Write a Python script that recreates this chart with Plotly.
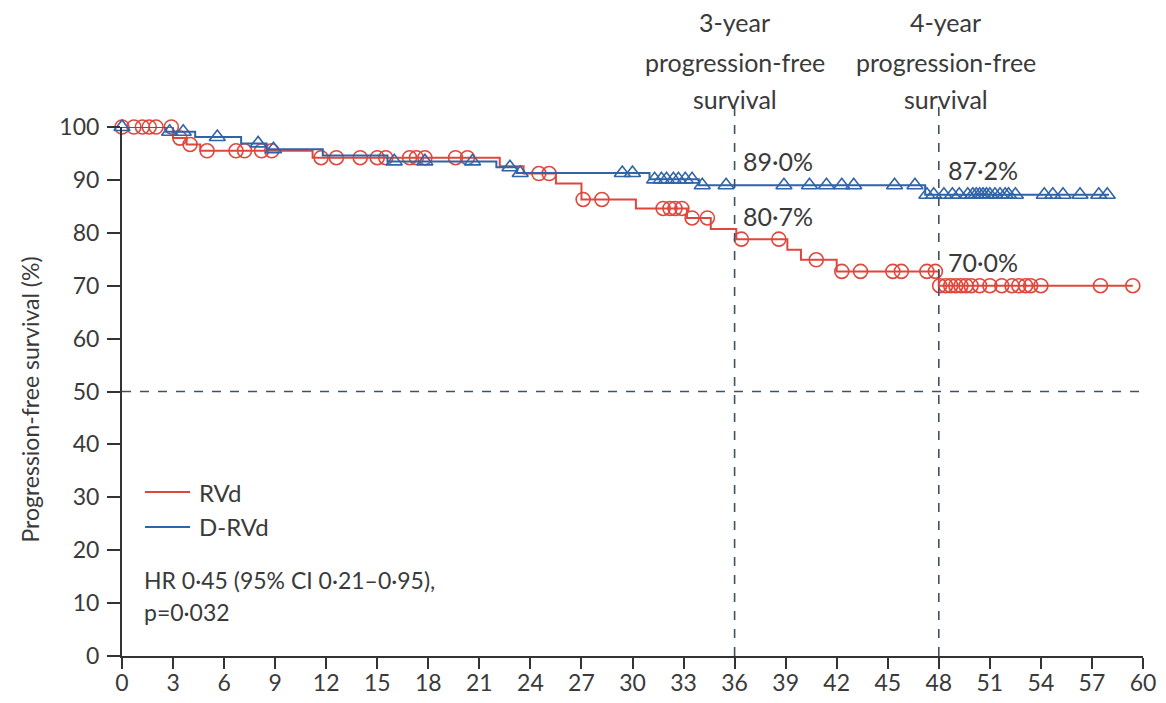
import plotly.graph_objects as go
import numpy as np

# ---------------- data ----------------
# RVd (red): event times (months) and survival (%) after each step
rvd_event_t = [0, 3.0, 3.8, 4.6, 11.2, 22.2, 23.6, 25.5, 27.0, 30.2, 33.2, 34.6, 36.1, 39.1, 39.9, 42.0, 48.0]
rvd_event_s = [100, 97.9, 96.7, 95.5, 94.2, 92.6, 91.2, 89.3, 86.3, 84.6, 82.8, 80.7, 78.8, 76.8, 74.9, 72.7, 70.0]
rvd_end_t = 59.4
rvd_censor_t = [0, 0.7, 1.2, 1.6, 2.0, 2.9, 3.4, 4.0, 5.0, 6.7, 7.2, 8.2, 8.8, 11.7, 12.6, 14.0,
                15.0, 15.5, 16.9, 17.3, 17.8, 19.6, 20.3, 24.5, 25.1, 27.1, 28.2, 31.8, 32.2, 32.5,
                32.9, 33.5, 34.4, 36.4, 38.6, 40.8, 42.3, 43.4, 45.3, 45.8, 47.3, 47.8, 48.05, 48.4,
                48.7, 49.0, 49.3, 49.6, 49.9, 50.4, 51.0, 51.7, 52.3, 52.7, 53.1, 53.4, 54.0, 57.5, 59.4]

# D-RVd (blue)
drvd_event_t = [0, 2.6, 4.3, 7.0, 8.5, 11.8, 15.6, 22.0, 23.2, 31.0, 33.9, 47.2]
drvd_event_s = [100, 99.1, 98.1, 96.9, 95.8, 94.6, 93.5, 92.4, 91.3, 90.1, 89.0, 87.2]
drvd_end_t = 58.0
drvd_censor_t = [0, 2.8, 3.6, 5.6, 8.0, 8.9, 16.0, 17.8, 20.6, 22.8, 23.4, 29.4, 30.0, 31.3, 31.7,
                 32.0, 32.4, 32.7, 33.1, 33.5, 34.1, 35.5, 38.9, 40.4, 41.4, 42.3, 43.0, 45.4, 46.6,
                 47.3, 47.7, 48.3, 48.8, 49.2, 49.7, 50.0, 50.2, 50.4, 50.6, 50.8, 51.0, 51.3, 51.6,
                 51.9, 52.1, 52.5, 54.2, 54.7, 55.3, 56.3, 57.4, 57.9]

x_ticks = list(range(0, 61, 3))
y_ticks = list(range(0, 101, 10))
landmarks = [36, 48]
landmark_titles = ["3-year", "4-year"]
rvd_landmark_lbl = ["80·7%", "70·0%"]
drvd_landmark_lbl = ["89·0%", "87·2%"]
hr_text = ["HR 0·45 (95% CI 0·21–0·95),", "p=0·032"]

RED = "#e0473c"
BLUE = "#2f63aa"
DARK = "#3a3a3a"
GRID = "#3d5262"
FONT = "Lato"


def step_lookup(t, times, vals):
    idx = np.searchsorted(np.array(times), t, side="right") - 1
    return vals[max(idx, 0)]


def step_xy(times, vals, end_t):
    xs = list(times) + [end_t]
    ys = list(vals) + [vals[-1]]
    return xs, ys


fig = go.Figure()

for times, vals, end_t, cens, color, sym, name in [
    (rvd_event_t, rvd_event_s, rvd_end_t, rvd_censor_t, RED, "circle-open", "RVd"),
    (drvd_event_t, drvd_event_s, drvd_end_t, drvd_censor_t, BLUE, "triangle-up-open", "D-RVd"),
]:
    xs, ys = step_xy(times, vals, end_t)
    fig.add_trace(go.Scatter(x=xs, y=ys, mode="lines", line=dict(color=color, width=2, shape="hv"),
                             showlegend=False, cliponaxis=False, hoverinfo="skip"))
    cy = [step_lookup(t, times, vals) for t in cens]
    fig.add_trace(go.Scatter(x=cens, y=cy, mode="markers",
                             marker=dict(symbol=sym, size=14, color=color, line=dict(color=color, width=1.6)),
                             showlegend=False, cliponaxis=False, name=name))

# dashed reference lines
shapes = []
for lm in landmarks:
    shapes.append(dict(type="line", xref="x", yref="paper", x0=lm, x1=lm, y0=0, y1=1.042,
                       line=dict(color=GRID, width=1.6, dash="dash")))
shapes.append(dict(type="line", xref="x", yref="y", x0=0, x1=60, y0=50, y1=50,
                   line=dict(color=GRID, width=1.6, dash="dash")))
# legend lines
shapes.append(dict(type="line", xref="x", yref="y", x0=1.35, x1=4.0, y0=31.0, y1=31.0,
                   line=dict(color=RED, width=2)))
shapes.append(dict(type="line", xref="x", yref="y", x0=1.35, x1=4.0, y0=24.4, y1=24.4,
                   line=dict(color=BLUE, width=2)))

ann = []
fs_head = 25
fs_pct = 25
fs_leg = 24
for lm, title in zip(landmarks, landmark_titles):
    xc = lm + (0.0 if lm == 36 else 0.4)
    for txt, yy in zip([title, "progression-free", "survival"], [1.199, 1.122, 1.052]):
        ann.append(dict(x=xc, y=yy, xref="x", yref="paper", text=txt, showarrow=False,
                        xanchor="center", yanchor="middle", font=dict(size=fs_head, color=DARK, family=FONT)))
for lm, top, bot in zip(landmarks, drvd_landmark_lbl, rvd_landmark_lbl):
    ytop = 93.5 if lm == 36 else 91.9
    ybot = 83.2 if lm == 36 else 74.4
    ann.append(dict(x=lm + 0.4, y=ytop, xref="x", yref="y", text=top, showarrow=False,
                    xanchor="left", yanchor="middle", font=dict(size=fs_pct, color=DARK, family=FONT)))
    ann.append(dict(x=lm + 0.4, y=ybot, xref="x", yref="y", text=bot, showarrow=False,
                    xanchor="left", yanchor="middle", font=dict(size=fs_pct, color=DARK, family=FONT)))

ann.append(dict(x=4.4, y=31.0, xref="x", yref="y", text="RVd", showarrow=False, xanchor="left",
                yanchor="middle", font=dict(size=fs_leg, color=DARK, family=FONT)))
ann.append(dict(x=4.4, y=24.4, xref="x", yref="y", text="D-RVd", showarrow=False, xanchor="left",
                yanchor="middle", font=dict(size=fs_leg, color=DARK, family=FONT)))
ann.append(dict(x=1.2, y=14.4, xref="x", yref="y", text=hr_text[0], showarrow=False, xanchor="left",
                yanchor="middle", font=dict(size=23, color=DARK, family=FONT)))
ann.append(dict(x=1.2, y=8.3, xref="x", yref="y", text=hr_text[1], showarrow=False, xanchor="left",
                yanchor="middle", font=dict(size=23, color=DARK, family=FONT)))
# y-axis title
ann.append(dict(x=-0.09, y=0.485, xref="paper", yref="paper", text="Progression-free survival (%)",
                textangle=-90, showarrow=False, xanchor="center", yanchor="middle",
                font=dict(size=23, color=DARK, family=FONT)))

fig.update_layout(
    template="none",
    width=1150, height=687,
    margin=dict(l=114, r=15, t=119, b=39, autoexpand=False),
    paper_bgcolor="white", plot_bgcolor="white",
    shapes=shapes, annotations=ann, showlegend=False,
    font=dict(family=FONT, color=DARK),
)
fig.update_xaxes(range=[0, 60], tickvals=x_ticks, ticktext=[str(v) for v in x_ticks], automargin=False,
                 showgrid=False, zeroline=False, showline=True, linecolor="#333333", linewidth=2,
                 ticks="outside", ticklen=11, tickwidth=2, tickcolor="#333333", ticklabelstandoff=-6,
                 tickfont=dict(size=23, color=DARK, family=FONT))
fig.update_yaxes(range=[0, 100], tickvals=y_ticks, ticktext=[str(v) for v in y_ticks], automargin=False,
                 showgrid=False, zeroline=False, showline=True, linecolor="#333333", linewidth=2,
                 ticks="outside", ticklen=13, tickwidth=2, tickcolor="#333333", ticklabelstandoff=3,
                 tickfont=dict(size=23, color=DARK, family=FONT))

fig.write_html("out.html")
